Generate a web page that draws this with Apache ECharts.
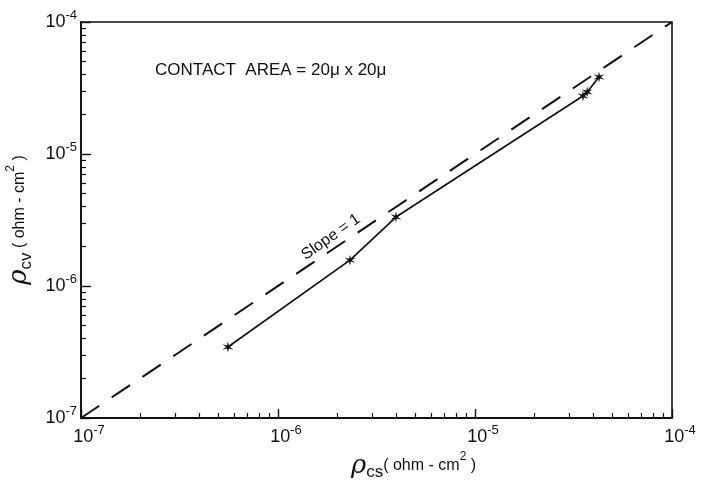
<!DOCTYPE html>
<html>
<head>
<meta charset="utf-8">
<script src="https://cdn.jsdelivr.net/npm/echarts@6/dist/echarts.min.js"></script>
<style>html,body{margin:0;padding:0;background:#fff}#c{width:708px;height:489px}</style>
</head>
<body>
<div id="c"></div>
<script>
// Data
var rhoCS = [5.57e-7, 2.32e-6, 3.97e-6, 3.53e-5, 3.71e-5, 4.26e-5];
var rhoCV = [3.45e-7, 1.57e-6, 3.33e-6, 2.75e-5, 2.95e-5, 3.83e-5];
var slopeLineX = [1e-7, 1e-4];
var slopeLineY = [1e-7, 1e-4];
var majorTicks = [1e-7, 1e-6, 1e-5, 1e-4];
var minorMultipliers = [2, 3, 4, 5, 6, 7, 8, 9];
var decades = [1e-7, 1e-6, 1e-5];

var minorTicks = [];
decades.forEach(function (d) { minorMultipliers.forEach(function (m) { minorTicks.push(m * d); }); });

var FONT = '"Liberation Sans", Arial, sans-serif';
var black = '#111';

function expLabel(v) {
  var e = Math.round(Math.log(v) / Math.LN10);
  return '{b|10}{s|' + e + '}';
}
var labelRich = {
  b: { fontSize: 18, lineHeight: 26, fontFamily: FONT, color: black },
  s: { fontSize: 13, lineHeight: 13, verticalAlign: 'top', fontFamily: FONT, color: black }
};
var nameRich = {
  r: { fontSize: 26, fontStyle: 'italic', fontFamily: '"DejaVu Serif", serif', color: black, lineHeight: 30 },
  sub: { fontSize: 17, fontFamily: FONT, color: black, verticalAlign: 'bottom', lineHeight: 20 },
  t: { fontSize: 16, fontFamily: FONT, color: black, lineHeight: 30 },
  sup: { fontSize: 12, fontFamily: FONT, color: black, verticalAlign: 'top', lineHeight: 16 }
};

// asterisk-like 6-point star symbol
function starPath() {
  var pts = [];
  for (var i = 0; i < 12; i++) {
    var r = (i % 2 === 0) ? 10 : 3;
    var a = Math.PI / 2 + i * Math.PI / 6;
    pts.push((10 + r * Math.cos(a)).toFixed(2) + ' ' + (10 - r * Math.sin(a)).toFixed(2));
  }
  return 'path://M' + pts.join(' L') + ' Z';
}

var dataPts = rhoCS.map(function (x, i) { return [x, rhoCV[i]]; });
var linePts = slopeLineX.map(function (x, i) { return [x, slopeLineY[i]]; });

function logAxis(extra) {
  var base = {
    type: 'log', logBase: 10, min: 1e-7, max: 1e-4,
    splitLine: { show: false },
    minorTick: { show: false }
  };
  for (var k in extra) base[k] = extra[k];
  return base;
}

var chart = echarts.init(document.getElementById('c'), null, { renderer: 'canvas' });
chart.setOption({
  animation: false,
  backgroundColor: '#fff',
  grid: { left: 81, right: 36, top: 22, bottom: 71, containLabel: false, outerBoundsMode: 'none', show: true, borderColor: black, borderWidth: 1.6, backgroundColor: 'transparent' },
  xAxis: [
    logAxis({
      position: 'bottom',
      axisLine: { show: true, lineStyle: { color: black, width: 1.8 } },
      axisTick: { show: true, inside: true, length: 9, customValues: majorTicks, lineStyle: { color: black, width: 1.4 } },
      axisLabel: { show: true, customValues: majorTicks, formatter: expLabel, rich: labelRich, margin: 6, padding: [0, 0, 0, 16] },
      name: '{r|ρ}{sub|cs}{t|( ohm - cm}{sup|2}{t| )}',
      nameLocation: 'middle', nameGap: 24,
      nameTextStyle: { rich: nameRich, padding: [0, 0, 0, 74] }
    }),
    logAxis({
      position: 'bottom',
      axisLine: { show: false },
      axisTick: { show: true, inside: true, length: 5, customValues: minorTicks, lineStyle: { color: black, width: 1.2 } },
      axisLabel: { show: false }
    })
  ],
  yAxis: [
    logAxis({
      position: 'left',
      axisLine: { show: true, lineStyle: { color: black, width: 1.8 } },
      axisTick: { show: true, inside: true, length: 10, customValues: majorTicks, lineStyle: { color: black, width: 1.4 } },
      axisLabel: { show: true, customValues: majorTicks, formatter: expLabel, rich: labelRich, margin: 4 },
      name: '{r|ρ}{sub|cv}{t| ( ohm - cm}{sup|2}{t| )}',
      nameLocation: 'middle', nameGap: 43,
      nameTextStyle: { rich: nameRich }
    }),
    logAxis({
      position: 'left',
      axisLine: { show: false },
      axisTick: { show: true, inside: true, length: 5, customValues: minorTicks, lineStyle: { color: black, width: 1.2 } },
      axisLabel: { show: false }
    })
  ],
  series: [
    {
      type: 'line', xAxisIndex: 0, yAxisIndex: 0, data: linePts,
      showSymbol: false, symbol: 'none',
      lineStyle: { color: black, width: 2, type: [22, 15] },
      silent: true
    },
    {
      type: 'line', xAxisIndex: 0, yAxisIndex: 0, data: dataPts,
      symbol: starPath(), symbolSize: 11, showSymbol: true,
      itemStyle: { color: black },
      lineStyle: { color: black, width: 1.7 },
      silent: true
    }
  ],
  graphic: [
    {
      type: 'text', left: 155, top: 62,
      style: { text: 'CONTACT  AREA = 20μ x 20μ', font: '17px ' + FONT, fill: black }
    },
    {
      type: 'text', x: 331, y: 237, rotation: 35 * Math.PI / 180,
      style: { text: 'Slope = 1', font: '16px ' + FONT, fill: black, textAlign: 'center', textVerticalAlign: 'middle' }
    }
  ]
});
</script>
</body>
</html>
